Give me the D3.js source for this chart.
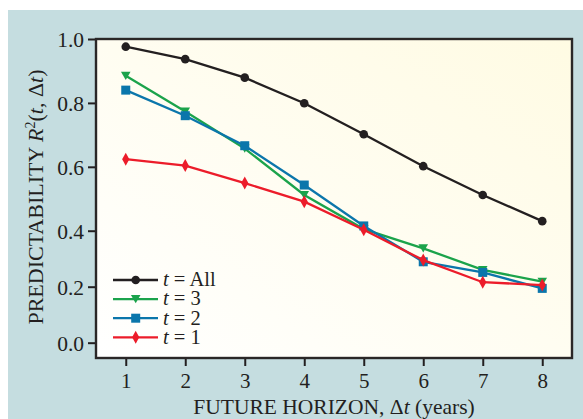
<!DOCTYPE html>
<html><head><meta charset="utf-8">
<script src="https://cdn.jsdelivr.net/npm/d3@7/dist/d3.min.js"></script>
<style>body{margin:0;background:#fff;} svg{display:block;}</style>
</head><body>
<svg id="c" width="583" height="419"></svg>
<script>
const horizons = [1,2,3,4,5,6,7,8];
const seriesNames = ["All","3","2","1"];
const valuesAll = [0.976,0.937,0.879,0.799,0.702,0.602,0.512,0.430];
const values3   = [0.885,0.773,0.657,0.512,0.405,0.337,0.260,0.218];
const values2   = [0.840,0.760,0.666,0.543,0.415,0.289,0.251,0.194];
const values1   = [0.624,0.604,0.549,0.491,0.403,0.295,0.216,0.206];
const xTicks = [1,2,3,4,5,6,7,8];
const yTicks = [0,0.2,0.4,0.6,0.8,1.0];

const series = [
  {name:seriesNames[0], vals:valuesAll, color:"#231f20", sym:"circle"},
  {name:seriesNames[1], vals:values3,   color:"#1ba34b", sym:"tri"},
  {name:seriesNames[2], vals:values2,   color:"#0b76ab", sym:"square"},
  {name:seriesNames[3], vals:values1,   color:"#ec1c2a", sym:"diamond"}
];

const svg = d3.select("#c");
const W=583,H=419;
const L=96,T=39,R=572,B=358;
const ph=B-T;

svg.append("rect").attr("x",8).attr("y",10).attr("width",W-8).attr("height",H-10).attr("fill","#c5dde0");

const defs = svg.append("defs");
const g = defs.append("linearGradient").attr("id","pf").attr("x1","0").attr("y1","1").attr("x2","1").attr("y2","0");
g.append("stop").attr("offset","0").attr("stop-color","#ffffff");
g.append("stop").attr("offset","1").attr("stop-color","#fffbe3");

svg.append("rect").attr("x",L).attr("y",T).attr("width",R-L).attr("height",B-T).attr("fill","url(#pf)");

const x = d3.scaleLinear().domain([0.5,8.5]).range([L,R]);
const y = d3.scaleLinear().domain([0,0.4,1.0]).range([T+ph*0.952, T+ph*0.601, T]);

const serif = "'Liberation Serif', 'DejaVu Serif', serif";
const ink = "#231f20";

const xa = svg.append("g").attr("transform",`translate(0,${B})`)
  .call(d3.axisBottom(x).tickValues(xTicks).tickSize(8).tickFormat(d3.format("d")));
xa.select(".domain").remove();
xa.selectAll(".tick line").attr("stroke",ink).attr("stroke-width",2);
xa.selectAll(".tick text").attr("font-family",serif).attr("font-size",21).attr("fill",ink)
  .attr("y",30).attr("dy",0);

const ya = svg.append("g").attr("transform",`translate(${L},0)`)
  .call(d3.axisLeft(y).tickValues(yTicks).tickSize(8).tickFormat(d3.format(".1f")));
ya.select(".domain").remove();
ya.selectAll(".tick line").attr("stroke",ink).attr("stroke-width",2);
ya.selectAll(".tick text").attr("font-family",serif).attr("font-size",21.5).attr("fill",ink)
  .attr("x",-12).attr("dy","0.34em");

svg.append("rect").attr("x",L).attr("y",T).attr("width",R-L).attr("height",B-T)
  .attr("fill","none").attr("stroke","#2a2727").attr("stroke-width",2.4);

function drawSym(sel, sym, color){
  if(sym==="circle") sel.append("circle").attr("r",4.3).attr("fill",color);
  else if(sym==="square") sel.append("rect").attr("x",-4.5).attr("y",-4.5).attr("width",9).attr("height",9).attr("fill",color);
  else if(sym==="tri") sel.append("path").attr("d","M-4.8,-4L4.8,-4L0,4.2Z").attr("fill",color);
  else sel.append("path").attr("d","M0,-6.5L3.6,0L0,6.5L-3.6,0Z").attr("fill",color);
}

const line = d3.line().x((d,i)=>x(horizons[i])).y(d=>y(d));
series.forEach(s=>{
  svg.append("path").attr("d",line(s.vals)).attr("fill","none").attr("stroke",s.color).attr("stroke-width",2.3);
  s.vals.forEach((v,i)=>{
    const m = svg.append("g").attr("transform",`translate(${x(horizons[i])},${y(v)})`);
    drawSym(m,s.sym,s.color);
  });
});

const lg = svg.append("g");
series.forEach((s,i)=>{
  const yy = 280 + i*19.1;
  lg.append("line").attr("x1",113).attr("x2",158).attr("y1",yy).attr("y2",yy).attr("stroke",s.color).attr("stroke-width",2.3);
  const m = lg.append("g").attr("transform",`translate(135.7,${yy})`);
  drawSym(m,s.sym,s.color);
  const t = lg.append("text").attr("x",163).attr("y",yy+6.3).attr("font-family",serif).attr("font-size",20.5).attr("fill",ink);
  t.append("tspan").attr("font-style","italic").text("t");
  t.append("tspan").text(" = "+s.name);
});

const xt = svg.append("text").attr("x",(L+R)/2).attr("y",414).attr("text-anchor","middle")
  .attr("font-family",serif).attr("font-size",21.5).attr("fill",ink);
xt.append("tspan").text("FUTURE HORIZON, Δ");
xt.append("tspan").attr("font-style","italic").text("t");
xt.append("tspan").text(" (years)");

const yt = svg.append("text").attr("transform","translate(43,197) rotate(-90)").attr("text-anchor","middle")
  .attr("font-family",serif).attr("font-size",22).attr("fill",ink);
yt.append("tspan").text("PREDICTABILITY ");
yt.append("tspan").attr("font-style","italic").text("R");
yt.append("tspan").attr("font-size",14).attr("dy",-8).text("2");
yt.append("tspan").attr("dy",8).text("(");
yt.append("tspan").attr("font-style","italic").text("t");
yt.append("tspan").text(", Δ");
yt.append("tspan").attr("font-style","italic").text("t");
yt.append("tspan").text(")");
</script>
</body></html>
